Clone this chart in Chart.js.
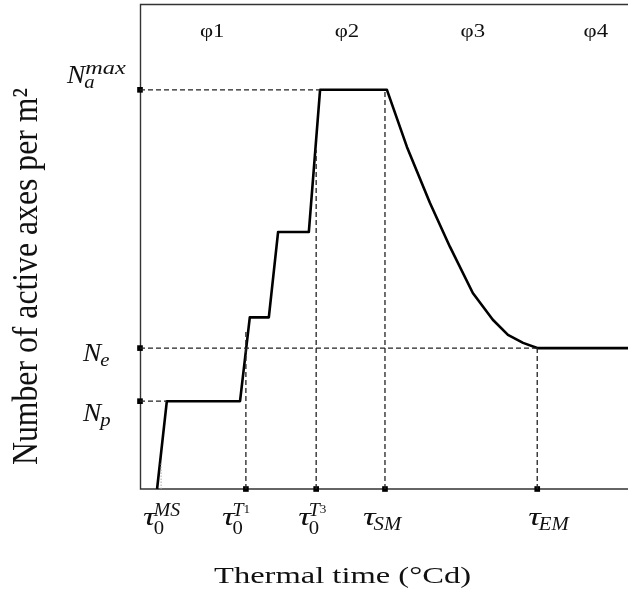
<!DOCTYPE html>
<html>
<head>
<meta charset="utf-8">
<script src="https://cdn.jsdelivr.net/npm/chart.js@4.4.1/dist/chart.umd.min.js"></script>
<style>
  html, body { margin: 0; padding: 0; background: #fff; }
  #wrap { width: 628px; height: 598px; position: relative; }
</style>
</head>
<body>
<div id="wrap"><canvas id="c" width="628" height="598"></canvas></div>
<script>
// ---- data (thermal time, number of active axes; arbitrary units) ----
const curveX = [3.5, 5.5, 20.5, 22.5, 26.4, 28.3, 34.6, 36.9, 50.6, 54.7, 59.4, 63.5, 68.2, 72.3, 75.4, 78.5, 81.4, 100];
const curveY = [0, 22, 22, 43, 43, 64.4, 64.4, 100, 100, 85.7, 71.7, 60.7, 49.1, 42.4, 38.6, 36.6, 35.3, 35.3];

const yTickValues = [22, 35.3, 100];
const yTickLabels = [
  { base: 'N', sub: 'p', sup: '' },
  { base: 'N', sub: 'e', sup: '' },
  { base: 'N', sub: 'a', sup: 'max' }
];
// where each horizontal guide meets the curve
const yGuideEnds = [5.5, 81.4, 36.9];

const xTickValues = [3.5, 21.7, 36.1, 50.2, 81.4];
const xTickLabels = [
  { base: 'τ', sub: '0', sup: 'MS', supSub: '' },
  { base: 'τ', sub: '0', sup: 'T', supSub: '1' },
  { base: 'τ', sub: '0', sup: 'T', supSub: '3' },
  { base: 'τ', sub: 'SM', sup: '', supSub: '' },
  { base: 'τ', sub: 'EM', sup: '', supSub: '' }
];
// where each vertical guide meets the curve
const xGuideEnds = [0, 40, 85, 100, 35.3];

const phaseX = [14.8, 42.4, 68.2, 93.4];
const phaseLabels = ['φ1', 'φ2', 'φ3', 'φ4'];

const xTitle = 'Thermal time (°Cd)';
const yTitle = 'Number of active axes per m²';

const X_MAX = 100, Y_MAX = 121.5;

// ---- datasets built from the arrays ----
const curveData = curveX.map((x, i) => ({ x, y: curveY[i] }));
const guideSets = [];
yTickValues.forEach((v, i) => guideSets.push([{ x: 0, y: v }, { x: yGuideEnds[i], y: v }]));
xTickValues.forEach((v, i) => { if (i > 0) guideSets.push([{ x: v, y: 0 }, { x: v, y: xGuideEnds[i] }]); });
const markerData = yTickValues.map(v => ({ x: 0, y: v }))
  .concat(xTickValues.slice(1).map(v => ({ x: v, y: 0 })));

const datasets = [];
guideSets.forEach(pts => datasets.push({
  data: pts, showLine: true, borderColor: '#222', borderWidth: 1.3,
  borderDash: [5, 3], pointRadius: 0, clip: false
}));
datasets.push({
  data: curveData, showLine: true, borderColor: '#000', borderWidth: 2.6,
  pointRadius: 0, tension: 0, clip: false, borderJoinStyle: 'round'
});
datasets.push({
  data: markerData, showLine: false, pointStyle: 'rect', pointRadius: 4,
  backgroundColor: '#000', borderColor: '#000', borderWidth: 0, clip: false
});

function drawText(ctx, s, x, y, font, sx, align) {
  ctx.save();
  ctx.font = font;
  ctx.textAlign = 'left';
  ctx.textBaseline = 'alphabetic';
  const w = ctx.measureText(s).width * sx;
  let left = x;
  if (align === 'center') left = x - w / 2;
  else if (align === 'right') left = x - w;
  ctx.translate(left, y);
  ctx.scale(sx, 1);
  ctx.fillText(s, 0, 0);
  ctx.restore();
  return left + w;
}

const MATH = 'italic 26px "Liberation Serif"';
const MATH_S = 'italic 18px "Liberation Serif"';
const ROMAN_S = '18px "Liberation Serif"';

const frame = {
  id: 'frame',
  beforeDatasetsDraw(chart) {
    const ctx = chart.ctx, ca = chart.chartArea;
    ctx.save();
    ctx.strokeStyle = '#333';
    ctx.lineWidth = 1.4;
    ctx.beginPath();
    ctx.moveTo(628, ca.top + 0.5); ctx.lineTo(ca.left + 0.5, ca.top + 0.5);
    ctx.lineTo(ca.left + 0.5, ca.bottom); ctx.lineTo(628, ca.bottom);
    ctx.stroke();
    ctx.restore();
  }
};

const decor = {
  id: 'decor',
  afterDatasetsDraw(chart) {
    const ctx = chart.ctx, ca = chart.chartArea;
    const xs = chart.scales.x, ys = chart.scales.y;
    ctx.save();
    ctx.fillStyle = '#111';
    // faint dotted mark near first tick
    ctx.strokeStyle = '#aaa'; ctx.lineWidth = 1; ctx.setLineDash([1.5, 1.5]);
    const fx = xs.getPixelForValue(xTickValues[0]) + 4;
    ctx.beginPath(); ctx.moveTo(fx, ca.bottom); ctx.lineTo(fx, ca.bottom - 26); ctx.stroke();
    ctx.setLineDash([]);

    // phase labels
    phaseLabels.forEach((s, i) => {
      drawText(ctx, s, xs.getPixelForValue(phaseX[i]), ca.top + 33, '19px "Liberation Serif"', 1.2, 'center');
    });

    // y tick labels
    const yLeft = [83, 83, 67];
    const yDy = [20, 13, -7];
    yTickLabels.forEach((L, i) => {
      const py = ys.getPixelForValue(yTickValues[i]) + yDy[i];
      const r = drawText(ctx, L.base, yLeft[i], py, MATH, 1.05, 'left');
      if (L.sub) drawText(ctx, L.sub, r - 1, py + 5, MATH_S, 1.15, 'left');
      if (L.sup) drawText(ctx, L.sup, r, py - 9, MATH_S, 1.35, 'left');
    });

    // x tick labels
    const xDx = [-14, -24, -18, -22, -9];
    xTickLabels.forEach((L, i) => {
      const px = xs.getPixelForValue(xTickValues[i]) + xDx[i];
      const base = ca.bottom + 36;
      const r = drawText(ctx, L.base, px, base, MATH, 1.35, 'left');
      if (L.sub) {
        const subFont = L.sup ? ROMAN_S : MATH_S;
        drawText(ctx, L.sub, r - 2, base + (L.sup ? 9 : 5), subFont, 1.15, 'left');
      }
      if (L.sup) {
        const r2 = drawText(ctx, L.sup, r - 2, base - 9, MATH_S, 1.1, 'left');
        if (L.supSub) drawText(ctx, L.supSub, r2, base - 12, '12px "Liberation Serif"', 1.1, 'left');
      }
    });

    // axis titles
    ctx.font = '24px "Liberation Serif"';
    const wx = ctx.measureText(xTitle).width;
    drawText(ctx, xTitle, 342.5, 583, '24px "Liberation Serif"', 257 / wx, 'center');

    ctx.save();
    ctx.font = '30px "Liberation Serif"';
    const wy = ctx.measureText(yTitle).width;
    ctx.translate(37, 276.5);
    ctx.rotate(-Math.PI / 2);
    ctx.scale(377 / wy, 1.2);
    ctx.textAlign = 'center';
    ctx.textBaseline = 'alphabetic';
    ctx.fillStyle = '#111';
    ctx.fillText(yTitle, 0, 0);
    ctx.restore();

    ctx.restore();
  }
};

new Chart(document.getElementById('c'), {
  type: 'scatter',
  data: { datasets },
  options: {
    responsive: false,
    maintainAspectRatio: false,
    animation: false,
    devicePixelRatio: 1,
    layout: { autoPadding: false, padding: { left: 140, right: 0, top: 4, bottom: 109 } },
    plugins: { legend: { display: false }, tooltip: { enabled: false } },
    scales: {
      x: { type: 'linear', min: 0, max: X_MAX, display: false },
      y: { type: 'linear', min: 0, max: Y_MAX, display: false }
    }
  },
  plugins: [frame, decor]
});
</script>
</body>
</html>
